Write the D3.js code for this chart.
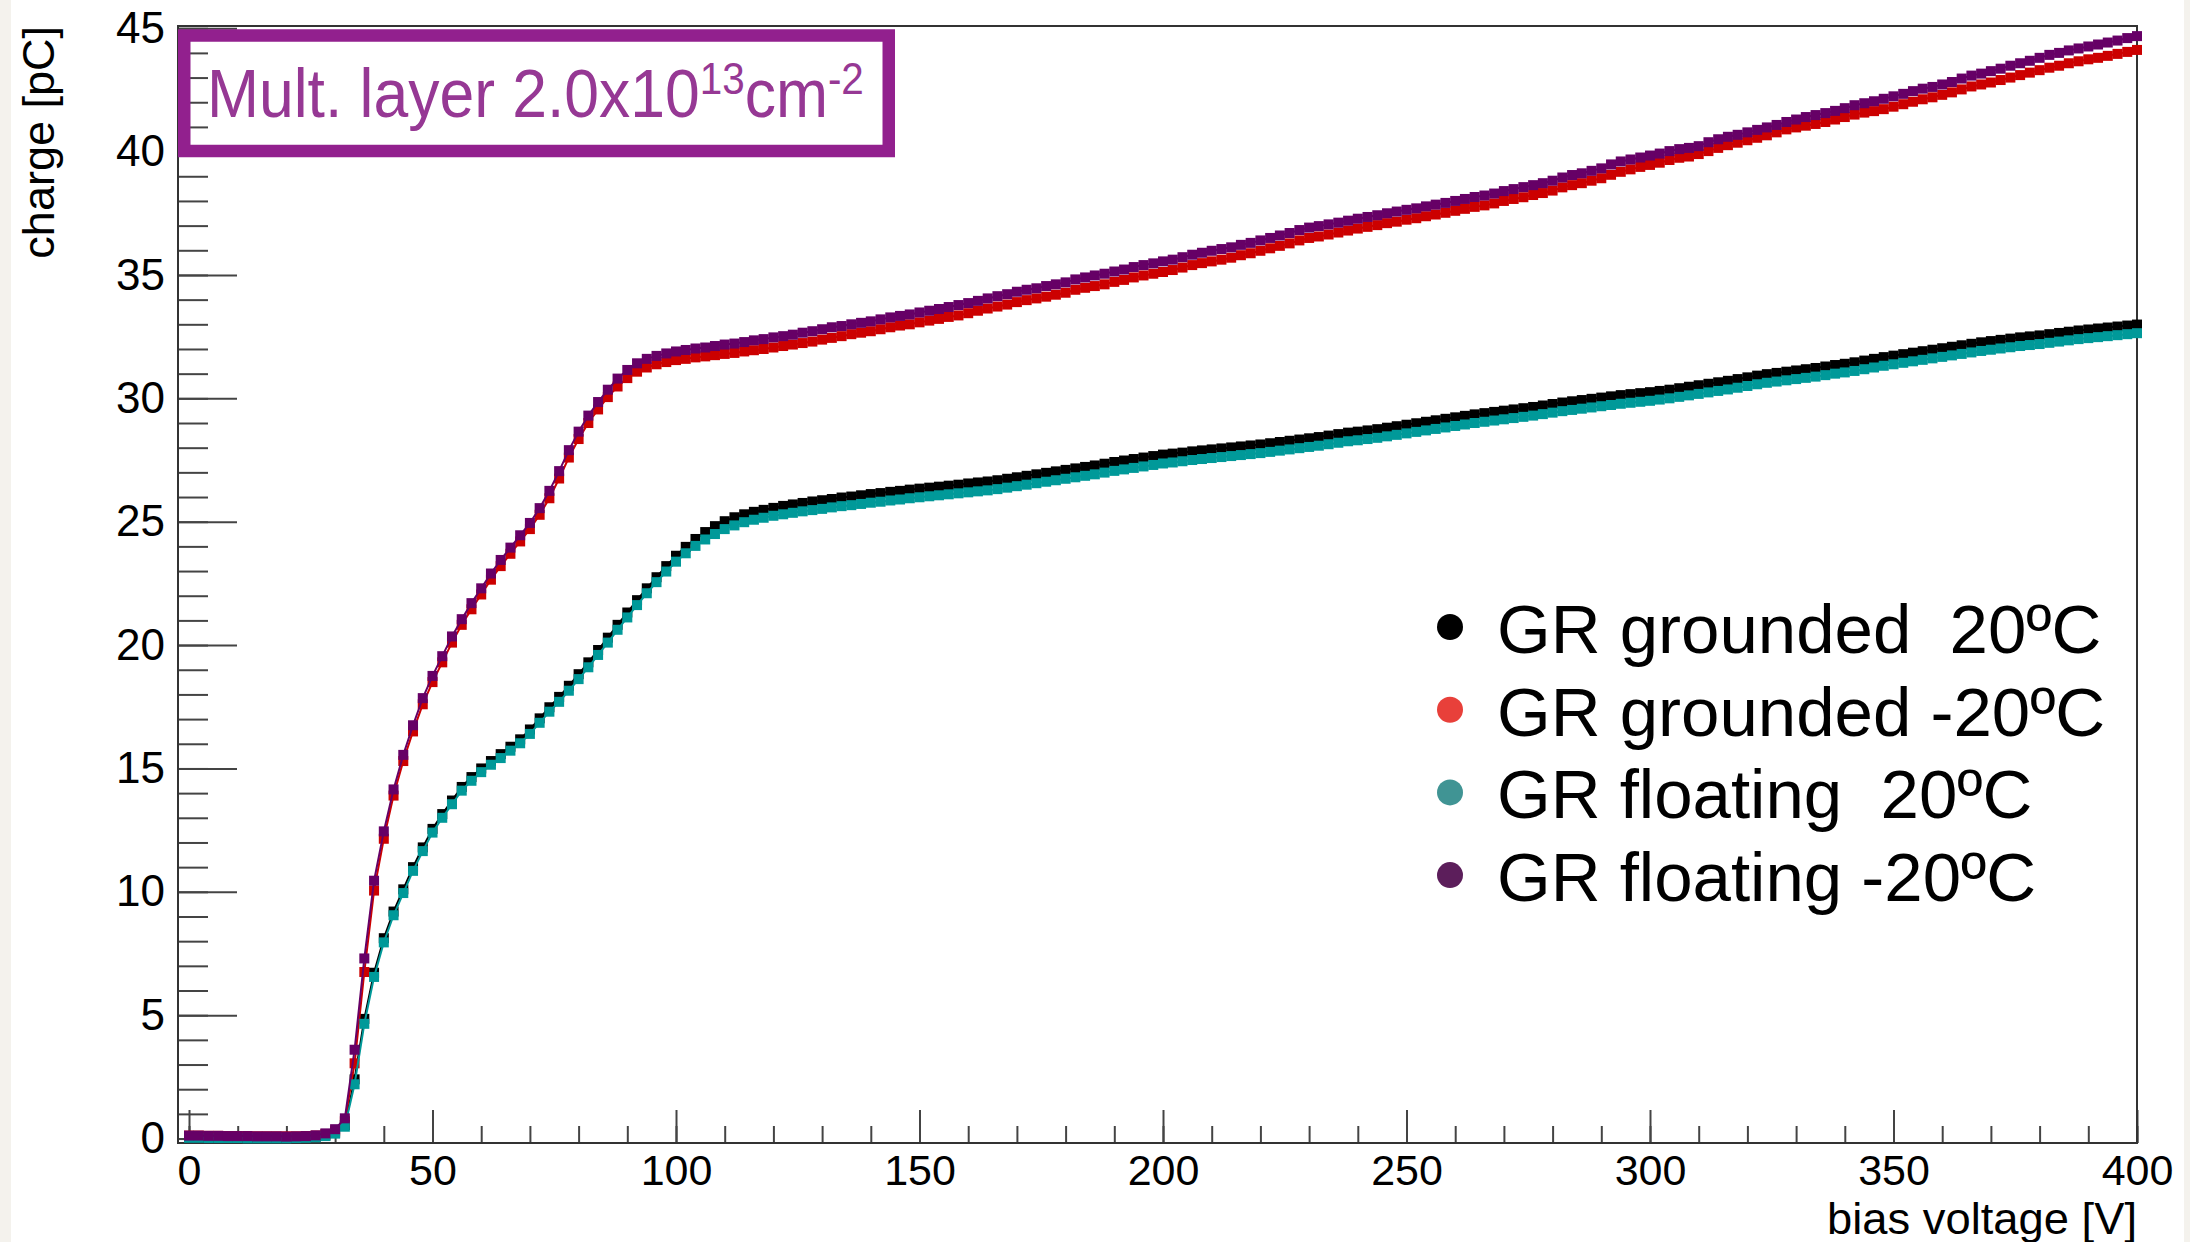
<!DOCTYPE html>
<html>
<head>
<meta charset="utf-8">
<script src="https://cdn.jsdelivr.net/npm/d3@7"></script>
<style>
  html, body { margin: 0; padding: 0; background: #f4f2ed; }
  svg { display: block; }
  text { font-family: "Liberation Sans", Arial, Helvetica, sans-serif; }
</style>
</head>
<body>
<svg id="chart" width="2190" height="1242"></svg>
<script>
// Bias voltage grid [V], one reading every 2 V
const voltage = d3.range(0, 401, 2);

// Collected charge [pC] per bias voltage
const grGrounded20 = [
  0.05,0.05,0.04,0.04,0.04,0.04,0.03,0.03,0.03,0.03,
  0.03,0.04,0.05,0.07,0.12,0.24,0.55,2.40,4.85,6.72,
  8.12,9.20,10.10,11.00,11.80,12.55,13.15,13.70,14.25,14.65,
  15.00,15.30,15.58,15.88,16.18,16.58,17.03,17.48,17.90,18.35,
  18.82,19.30,19.80,20.30,20.82,21.32,21.82,22.30,22.75,23.20,
  23.62,23.98,24.30,24.58,24.82,25.02,25.18,25.30,25.40,25.48,
  25.56,25.64,25.70,25.76,25.82,25.87,25.92,25.98,26.02,26.07,
  26.12,26.16,26.21,26.25,26.30,26.34,26.38,26.42,26.46,26.50,
  26.55,26.59,26.63,26.68,26.74,26.80,26.86,26.92,26.98,27.04,
  27.10,27.16,27.22,27.28,27.35,27.42,27.48,27.54,27.60,27.66,
  27.72,27.76,27.80,27.85,27.89,27.93,27.97,28.01,28.05,28.09,
  28.13,28.18,28.23,28.28,28.33,28.38,28.43,28.49,28.55,28.61,
  28.65,28.70,28.75,28.81,28.87,28.93,28.99,29.05,29.11,29.17,
  29.23,29.29,29.35,29.40,29.45,29.50,29.55,29.60,29.65,29.71,
  29.77,29.83,29.88,29.93,29.98,30.03,30.08,30.13,30.17,30.21,
  30.25,30.30,30.35,30.41,30.47,30.53,30.59,30.65,30.71,30.78,
  30.85,30.92,30.98,31.03,31.08,31.13,31.18,31.23,31.29,31.35,
  31.40,31.46,31.53,31.60,31.67,31.73,31.79,31.85,31.91,31.97,
  32.03,32.09,32.15,32.21,32.27,32.32,32.37,32.42,32.47,32.51,
  32.55,32.60,32.65,32.70,32.75,32.79,32.83,32.87,32.91,32.95,
  32.99
];

const grGroundedMinus20 = [
  0.12,0.12,0.11,0.11,0.10,0.10,0.10,0.09,0.09,0.09,
  0.09,0.09,0.10,0.12,0.18,0.32,0.70,3.05,6.75,10.05,
  12.15,13.90,15.30,16.50,17.60,18.50,19.30,20.10,20.82,21.45,
  22.05,22.65,23.20,23.70,24.20,24.70,25.28,25.95,26.75,27.60,
  28.35,29.00,29.55,30.05,30.48,30.82,31.08,31.25,31.38,31.47,
  31.55,31.60,31.66,31.70,31.75,31.80,31.84,31.90,31.95,32.00,
  32.06,32.12,32.18,32.24,32.30,32.38,32.45,32.52,32.60,32.66,
  32.72,32.80,32.88,32.95,33.00,33.08,33.15,33.22,33.30,33.36,
  33.45,33.55,33.64,33.72,33.80,33.90,33.98,34.05,34.12,34.20,
  34.28,34.40,34.48,34.55,34.62,34.72,34.80,34.90,34.98,35.05,
  35.12,35.20,35.30,35.40,35.48,35.55,35.62,35.70,35.80,35.88,
  35.98,36.08,36.18,36.28,36.40,36.50,36.56,36.64,36.72,36.80,
  36.88,36.95,37.02,37.10,37.16,37.24,37.30,37.38,37.45,37.52,
  37.60,37.68,37.76,37.82,37.90,38.00,38.08,38.15,38.24,38.32,
  38.42,38.55,38.64,38.72,38.82,38.92,39.06,39.18,39.28,39.38,
  39.46,39.55,39.66,39.75,39.80,39.90,40.02,40.15,40.26,40.36,
  40.46,40.56,40.66,40.78,40.90,40.98,41.05,41.12,41.20,41.30,
  41.40,41.50,41.58,41.64,41.72,41.82,41.92,42.02,42.12,42.20,
  42.30,42.40,42.52,42.64,42.72,42.80,42.90,43.00,43.10,43.20,
  43.30,43.40,43.48,43.58,43.66,43.74,43.80,43.88,43.96,44.04,
  44.12
];

const grFloating20 = [
  0.03,0.03,0.02,0.02,0.02,0.02,0.01,0.01,0.01,0.01,
  0.01,0.02,0.03,0.05,0.10,0.20,0.48,2.20,4.65,6.55,
  7.95,9.05,9.95,10.85,11.65,12.40,13.00,13.55,14.10,14.50,
  14.85,15.15,15.42,15.72,16.02,16.40,16.85,17.30,17.70,18.15,
  18.62,19.10,19.60,20.10,20.62,21.12,21.62,22.10,22.55,22.98,
  23.38,23.72,24.02,24.28,24.50,24.70,24.85,24.98,25.08,25.16,
  25.24,25.30,25.36,25.42,25.47,25.52,25.58,25.63,25.67,25.72,
  25.77,25.81,25.86,25.90,25.95,25.99,26.03,26.07,26.11,26.15,
  26.19,26.23,26.27,26.32,26.38,26.44,26.50,26.56,26.62,26.68,
  26.74,26.80,26.86,26.92,26.99,27.06,27.12,27.18,27.24,27.30,
  27.36,27.40,27.45,27.50,27.54,27.58,27.62,27.66,27.70,27.74,
  27.78,27.83,27.88,27.93,27.98,28.03,28.08,28.14,28.20,28.26,
  28.30,28.35,28.40,28.46,28.52,28.58,28.64,28.70,28.76,28.82,
  28.88,28.94,29.00,29.05,29.10,29.15,29.20,29.25,29.30,29.36,
  29.42,29.48,29.53,29.58,29.63,29.68,29.73,29.78,29.82,29.86,
  29.90,29.95,30.00,30.06,30.12,30.18,30.24,30.30,30.36,30.43,
  30.50,30.57,30.63,30.68,30.73,30.78,30.83,30.88,30.94,31.00,
  31.05,31.11,31.18,31.25,31.32,31.38,31.44,31.50,31.56,31.62,
  31.68,31.74,31.80,31.86,31.92,31.97,32.02,32.07,32.12,32.16,
  32.20,32.25,32.30,32.35,32.40,32.44,32.48,32.52,32.56,32.60,
  32.64
];

const grFloatingMinus20 = [
  0.12,0.12,0.11,0.11,0.10,0.10,0.10,0.09,0.09,0.09,
  0.08,0.09,0.10,0.13,0.21,0.38,0.82,3.60,7.30,10.45,
  12.45,14.15,15.55,16.75,17.85,18.75,19.55,20.35,21.05,21.70,
  22.30,22.90,23.45,23.95,24.45,24.95,25.55,26.25,27.05,27.90,
  28.65,29.30,29.85,30.35,30.80,31.15,31.42,31.60,31.72,31.82,
  31.90,31.96,32.02,32.06,32.12,32.18,32.22,32.28,32.35,32.40,
  32.47,32.52,32.58,32.66,32.72,32.80,32.88,32.93,33.00,33.06,
  33.12,33.20,33.28,33.34,33.40,33.48,33.55,33.62,33.70,33.78,
  33.86,33.95,34.05,34.14,34.22,34.32,34.40,34.46,34.55,34.62,
  34.70,34.82,34.90,34.98,35.05,35.14,35.22,35.32,35.40,35.47,
  35.55,35.62,35.72,35.82,35.90,35.98,36.05,36.12,36.22,36.30,
  36.40,36.50,36.60,36.70,36.82,36.92,36.98,37.05,37.12,37.20,
  37.28,37.35,37.42,37.50,37.57,37.64,37.70,37.78,37.85,37.92,
  38.00,38.08,38.16,38.22,38.30,38.40,38.48,38.56,38.64,38.72,
  38.82,38.95,39.05,39.12,39.22,39.32,39.48,39.60,39.68,39.76,
  39.84,39.92,40.02,40.10,40.15,40.22,40.38,40.50,40.60,40.68,
  40.78,40.88,40.98,41.08,41.20,41.30,41.40,41.48,41.56,41.65,
  41.76,41.88,41.96,42.04,42.14,42.24,42.34,42.45,42.55,42.62,
  42.72,42.82,42.96,43.08,43.16,43.26,43.36,43.48,43.58,43.68,
  43.80,43.92,44.00,44.10,44.18,44.26,44.34,44.42,44.50,44.60,
  44.68
];

const legendLabels = ["GR grounded  20ºC", "GR grounded -20ºC", "GR floating  20ºC", "GR floating -20ºC"];
const markerColors = ["#000000", "#cc0000", "#009999", "#660066"];
const legendColors = ["#000000", "#e8403a", "#409494", "#5c1e5b"];

const xMajorTicks = [0, 50, 100, 150, 200, 250, 300, 350, 400];
const xMinorTicks = d3.range(0, 401, 10);
const yMajorTicks = [0, 5, 10, 15, 20, 25, 30, 35, 40, 45];
const yMinorTicks = d3.range(0, 46, 1);

const svg = d3.select("#chart");

// white canvas
svg.append("rect").attr("x", 11).attr("y", 0).attr("width", 2173).attr("height", 1242).attr("fill", "#ffffff");

const frame = { left: 178, right: 2137, top: 26, bottom: 1143 };
const x = d3.scaleLinear().domain([-2.26, 400]).range([frame.left, frame.right]);
const y = d3.scaleLinear().domain([-0.18, 45.09]).range([frame.bottom, frame.top]);

const tickColor = "#444";

function styleAxis(g) {
  g.select(".domain").remove();
  g.selectAll(".tick line").attr("stroke", tickColor).attr("stroke-width", 2);
  g.selectAll(".tick text")
    .attr("fill", "#000")
    .attr("font-size", 43)
    .attr("font-family", "'Liberation Sans', Arial, Helvetica, sans-serif");
}

// x axis: minor then major ticks, pointing into the frame
svg.append("g").attr("transform", `translate(0,${frame.bottom})`)
  .call(d3.axisBottom(x).tickValues(xMinorTicks).tickSize(-17).tickFormat(""))
  .call(styleAxis);
svg.append("g").attr("transform", `translate(0,${frame.bottom})`)
  .call(d3.axisBottom(x).tickValues(xMajorTicks).tickSize(-33).tickPadding(11).tickFormat(d3.format("d")))
  .call(styleAxis);

// y axis
svg.append("g").attr("transform", `translate(${frame.left},0)`)
  .call(d3.axisLeft(y).tickValues(yMinorTicks).tickSize(-30).tickFormat(""))
  .call(styleAxis);
svg.append("g").attr("transform", `translate(${frame.left},0)`)
  .call(d3.axisLeft(y).tickValues(yMajorTicks).tickSize(-59).tickPadding(13).tickFormat(d3.format("d")))
  .call(styleAxis)
  .call(g => g.selectAll(".tick text").attr("font-size", 44));

// frame
svg.append("rect")
  .attr("x", frame.left).attr("y", frame.top)
  .attr("width", frame.right - frame.left).attr("height", frame.bottom - frame.top)
  .attr("fill", "none").attr("stroke", "#333").attr("stroke-width", 2);

// axis titles
svg.append("text")
  .attr("x", frame.right).attr("y", 1234)
  .attr("text-anchor", "end").attr("font-size", 44).attr("fill", "#000")
  .attr("textLength", 310).attr("lengthAdjust", "spacingAndGlyphs")
  .text("bias voltage [V]");
svg.append("text")
  .attr("transform", `translate(54,${frame.top}) rotate(-90)`)
  .attr("text-anchor", "end").attr("font-size", 45).attr("fill", "#000")
  .text("charge [pC]");

// data series, drawn in legend order so later ones sit on top
const series = [grGrounded20, grGroundedMinus20, grFloating20, grFloatingMinus20];
const marker = 10;
const plot = svg.append("g");
series.forEach((vals, k) => {
  const pts = voltage.map((v, i) => [v, vals[i]]).filter(d => d[1] !== undefined);
  plot.append("path")
    .attr("d", d3.line().x(d => x(d[0])).y(d => y(d[1]))(pts))
    .attr("fill", "none").attr("stroke", markerColors[k]).attr("stroke-width", 2);
  plot.append("g").selectAll("rect").data(pts).join("rect")
    .attr("x", d => x(d[0]) - marker / 2)
    .attr("y", d => y(d[1]) - marker / 2)
    .attr("width", marker).attr("height", marker)
    .attr("fill", markerColors[k]);
});

// legend
const legend = svg.append("g");
legendLabels.forEach((label, i) => {
  const cy = 627 + i * 82.7;
  legend.append("circle").attr("cx", 1450).attr("cy", cy).attr("r", 13).attr("fill", legendColors[i]);
  legend.append("text")
    .attr("x", 1497).attr("y", cy + 26)
    .attr("font-size", 69).attr("fill", "#000")
    .attr("xml:space", "preserve").style("white-space", "pre")
    .text(label);
});

// fluence box
const boxColor = "#92208e";
svg.append("rect")
  .attr("x", 184.25).attr("y", 35.5).attr("width", 704.5).attr("height", 115.5)
  .attr("fill", "none").attr("stroke", boxColor).attr("stroke-width", 12.5);
const title = svg.append("text")
  .attr("x", 207).attr("y", 117)
  .attr("font-family", "Lato, 'Open Sans', sans-serif")
  .attr("font-size", 68).attr("fill", "#963894");
title.append("tspan").text("Mult. layer 2.0x10");
title.append("tspan").attr("dy", -23).attr("font-size", 44).text("13");
title.append("tspan").attr("dy", 23).attr("font-size", 68).text("cm");
title.append("tspan").attr("dy", -23).attr("font-size", 44).text("-2");
const tw = title.node().getComputedTextLength();
const sx = 657 / tw;
if (sx > 0.6 && sx < 1.4) {
  title.attr("transform", `translate(207,0) scale(${sx},1) translate(-207,0)`);
}
</script>
</body>
</html>
